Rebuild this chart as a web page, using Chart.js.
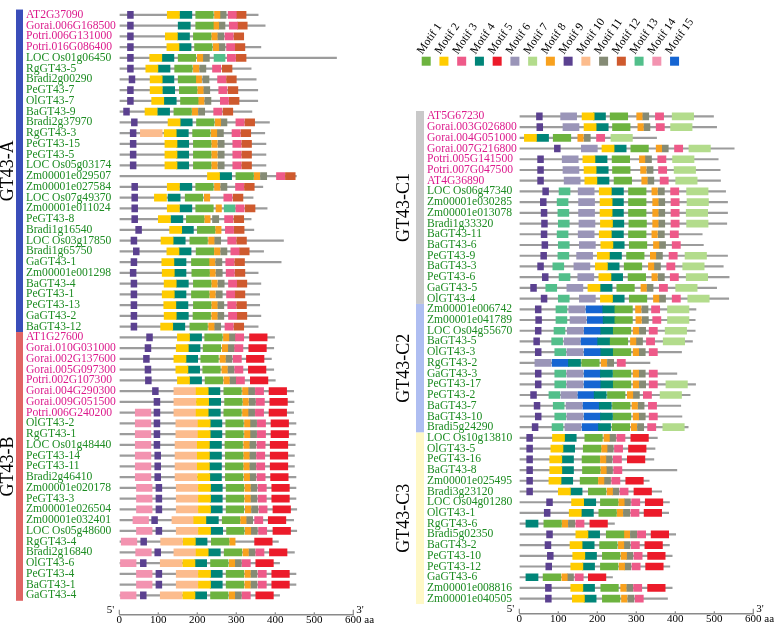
<!DOCTYPE html>
<html>
<head>
<meta charset="utf-8">
<script src="https://cdn.jsdelivr.net/npm/chart.js@4.4.0/dist/chart.umd.min.js"></script>
<style>
  body { margin: 0; background: #fff; }
  #wrap { position: relative; width: 780px; height: 629px; overflow: hidden; }
  .box { position: absolute; top: 0; height: 629px; }
</style>
</head>
<body>
<div id="wrap">
  <div class="box" style="left:0;width:385px"><canvas id="leftChart"></canvas></div>
  <div class="box" style="left:390px;width:390px"><canvas id="rightChart"></canvas></div>
</div>
<script>
// motif widths in aa (MEME motif sizes)
const motifNames = ['Motif 1','Motif 2','Motif 3','Motif 4','Motif 5','Motif 6','Motif 7','Motif 8',
  'Motif 9','Motif 10','Motif 11','Motif 12','Motif 13','Motif 14','Motif 15'];
const motifWidth = [45, 31, 21, 31, 45, 41, 55, 14, 15, 56, 16, 25, 28, 40, 43];

// ---- left panel: GT43-A / GT43-B ----
const leftGenes = ['AT2G37090','Gorai.006G168500','Potri.006G131000','Potri.016G086400','LOC Os01g06450',
  'RgGT43-5','Bradi2g00290','PeGT43-7','OlGT43-7','BaGT43-9','Bradi2g37970','RgGT43-3','PeGT43-15',
  'PeGT43-5','LOC Os05g03174','Zm00001e029507','Zm00001e027584','LOC Os07g49370','Zm00001e011024',
  'PeGT43-8','Bradi1g16540','LOC Os03g17850','Bradi1g65750','GaGT43-1','Zm00001e001298','BaGT43-4',
  'PeGT43-1','PeGT43-13','GaGT43-2','BaGT43-12','AT1G27600','Gorai.010G031000','Gorai.002G137600',
  'Gorai.005G097300','Potri.002G107300','Gorai.004G290300','Gorai.009G051500','Potri.006G240200',
  'OlGT43-2','RgGT43-1','LOC Os01g48440','PeGT43-14','PeGT43-11','Bradi2g46410','Zm00001e020178',
  'PeGT43-3','Zm00001e026504','Zm00001e032401','LOC Os05g48600','RgGT43-4','Bradi2g16840','OlGT43-6',
  'PeGT43-4','BaGT43-1','GaGT43-4'];
const leftLength = [356,374,317,363,557,338,351,355,355,340,385,373,376,376,376,454,368,343,379,338,
  345,421,370,415,356,363,360,360,363,356,398,396,390,396,400,447,448,447,453,453,451,449,449,453,
  453,453,455,447,455,408,449,411,453,453,411];
// [motif, start aa] per gene
const leftMotifs = [
  [[9,21],[2,123],[4,155],[1,196],[8,244],[11,258],[3,279],[12,300]],
  [[9,21],[4,151],[1,196],[8,241],[11,255],[3,282],[12,303]],
  [[9,21],[2,118],[4,149],[1,190],[8,237],[11,252],[3,271],[12,294]],
  [[9,21],[2,122],[4,153],[1,193],[8,241],[11,255],[3,275],[12,297]],
  [[9,21],[2,78],[4,109],[1,151],[8,200],[11,215],[13,243],[3,277],[12,300]],
  [[9,21],[2,68],[4,99],[1,142],[8,190],[11,206],[3,239],[12,264]],
  [[9,25],[2,79],[4,109],[1,151],[8,197],[11,214],[3,252],[12,275]],
  [[9,21],[2,79],[4,111],[1,154],[8,201],[11,216],[3,255],[12,279]],
  [[9,21],[2,83],[4,115],[1,157],[8,203],[11,219],[3,259],[12,282]],
  [[9,11],[2,66],[4,98],[1,140],[8,187],[11,203],[3,242],[12,266]],
  [[9,31],[2,125],[4,156],[1,198],[8,246],[11,260],[3,299],[12,322]],
  [[9,28],[10,54],[2,115],[4,146],[1,188],[8,236],[11,251],[3,289],[12,312]],
  [[9,28],[2,117],[4,147],[1,190],[8,237],[11,253],[3,291],[12,314]],
  [[9,28],[2,117],[4,147],[1,190],[8,237],[11,253],[3,291],[12,314]],
  [[9,28],[2,117],[4,147],[1,190],[8,237],[11,253],[3,291],[12,314]],
  [[2,226],[4,257],[1,299],[8,346],[11,362],[3,403],[12,426]],
  [[9,32],[2,123],[4,155],[1,196],[8,244],[11,260],[3,298],[12,321]],
  [[9,32],[2,90],[4,125],[1,169],[8,218],[3,268],[12,292]],
  [[9,32],[2,123],[4,155],[1,196],[8,248],[13,269],[3,299],[12,323]],
  [[9,32],[2,100],[4,132],[1,172],[8,219],[11,239],[3,270],[12,294]],
  [[9,42],[2,129],[4,159],[1,200],[8,247],[3,272],[12,295]],
  [[9,30],[2,107],[4,138],[1,181],[8,229],[11,244],[3,278],[12,301]],
  [[9,36],[2,122],[4,153],[1,197],[8,244],[11,260],[3,286],[12,308]],
  [[9,30],[2,109],[4,140],[1,185],[8,231],[11,247],[3,273],[12,296]],
  [[9,28],[2,110],[4,140],[1,186],[8,232],[11,248],[3,274],[12,297]],
  [[9,30],[2,115],[4,146],[1,190],[8,237],[11,253],[3,280],[12,302]],
  [[9,30],[2,110],[4,140],[1,185],[8,232],[11,248],[3,275],[12,297]],
  [[9,30],[2,114],[4,145],[1,190],[8,237],[11,252],[3,278],[12,301]],
  [[9,30],[2,115],[4,146],[1,189],[8,237],[11,252],[3,280],[12,302]],
  [[9,30],[2,106],[4,137],[1,181],[8,229],[11,244],[3,271],[12,294]],
  [[9,70],[2,149],[4,180],[1,219],[8,267],[11,282],[3,298],[5,334]],
  [[9,66],[2,146],[4,176],[1,215],[8,264],[11,279],[3,296],[5,332]],
  [[9,62],[2,140],[4,170],[1,209],[8,258],[11,273],[3,292],[5,326]],
  [[9,66],[2,145],[4,175],[1,214],[8,263],[11,278],[3,296],[5,331]],
  [[9,67],[2,149],[4,180],[1,220],[8,268],[11,283],[3,300],[5,336]],
  [[9,85],[10,140],[2,197],[4,227],[1,268],[8,316],[11,331],[3,349],[5,384]],
  [[9,89],[10,140],[2,198],[4,229],[1,270],[8,317],[11,333],[3,351],[5,386]],
  [[14,41],[9,89],[10,140],[2,197],[4,228],[1,268],[8,316],[11,331],[3,349],[5,384]],
  [[14,41],[9,89],[10,145],[2,202],[4,232],[1,273],[8,321],[11,336],[3,354],[5,389]],
  [[14,41],[9,89],[10,145],[2,202],[4,232],[1,273],[8,321],[11,336],[3,354],[5,389]],
  [[14,41],[9,89],[10,143],[2,200],[4,231],[1,271],[8,319],[11,334],[3,353],[5,387]],
  [[14,41],[9,91],[10,143],[2,200],[4,231],[1,272],[8,319],[11,334],[3,352],[5,387]],
  [[14,41],[9,91],[10,143],[2,200],[4,231],[1,272],[8,319],[11,334],[3,352],[5,387]],
  [[14,41],[9,91],[10,143],[2,201],[4,231],[1,272],[8,320],[11,334],[3,353],[5,388]],
  [[14,44],[9,94],[10,146],[2,203],[4,233],[1,274],[8,322],[11,337],[3,356],[5,391]],
  [[14,44],[9,94],[10,146],[2,203],[4,233],[1,274],[8,322],[11,337],[3,356],[5,391]],
  [[14,44],[9,94],[10,146],[2,203],[4,233],[1,274],[8,323],[11,339],[3,358],[5,394]],
  [[14,35],[9,83],[10,135],[2,191],[4,223],[1,264],[8,311],[11,326],[3,347],[5,382]],
  [[14,44],[9,94],[10,146],[2,203],[4,234],[1,275],[8,323],[11,338],[3,357],[5,394]],
  [[14,5],[9,55],[10,106],[2,164],[4,194],[1,236],[8,283],[5,347]],
  [[14,42],[9,91],[10,140],[2,197],[4,228],[1,269],[8,317],[11,332],[3,350],[5,385]],
  [[14,3],[9,54],[10,105],[2,163],[4,193],[1,234],[8,282],[11,297],[3,315],[5,350]],
  [[14,44],[9,94],[10,146],[2,203],[4,233],[1,274],[8,322],[11,337],[3,356],[5,391]],
  [[14,44],[9,94],[10,146],[2,203],[4,233],[1,274],[8,322],[11,337],[3,356],[5,391]],
  [[14,3],[9,54],[10,105],[2,163],[4,193],[1,234],[8,282],[11,297],[3,315],[5,350]]
];
const leftGroups = [['GT43-A', 0, 29], ['GT43-B', 30, 54]];

// ---- right panel: GT43-C1 / C2 / C3 ----
const rightGenes = ['AT5G67230','Gorai.003G026800','Gorai.004G051000','Gorai.007G216800','Potri.005G141500',
  'Potri.007G047500','AT4G36890','LOC Os06g47340','Zm00001e030285','Zm00001e013078','Bradi1g33320',
  'BaGT43-11','BaGT43-6','PeGT43-9','BaGT43-3','PeGT43-6','GaGT43-5','OlGT43-4','Zm00001e006742',
  'Zm00001e041789','LOC Os04g55670','BaGT43-5','OlGT43-3','RgGT43-2','GaGT43-3','PeGT43-17','PeGT43-2',
  'BaGT43-7','BaGT43-10','Bradi5g24290','LOC Os10g13810','OlGT43-5','PeGT43-16','BaGT43-8',
  'Zm00001e025495','Bradi3g23120','LOC Os04g01280','OlGT43-1','RgGT43-6','Bradi5g02350','BaGT43-2',
  'PeGT43-10','PeGT43-12','GaGT43-6','Zm00001e008816','Zm00001e040505'];
const rightLength = [498,506,352,551,510,515,516,529,534,534,532,469,472,534,523,538,506,537,453,451,
  451,444,416,335,404,452,438,414,417,433,354,348,345,404,333,365,385,383,244,401,385,392,386,239,392,380];
const rightMotifs = [
  [[9,44],[6,106],[2,161],[4,190],[1,233],[8,301],[11,316],[3,349],[7,392]],
  [[9,45],[6,112],[2,166],[4,197],[1,239],[8,304],[11,319],[3,351],[7,388]],
  [[2,13],[4,44],[1,87],[8,150],[11,166],[3,198],[7,235]],
  [[9,90],[6,159],[2,212],[4,243],[1,286],[8,351],[11,366],[3,398],[7,435]],
  [[9,47],[6,110],[2,163],[4,194],[1,238],[8,308],[11,323],[3,355],[7,393]],
  [[9,47],[6,112],[2,166],[4,197],[1,239],[8,311],[11,327],[3,357],[7,397]],
  [[9,47],[6,115],[2,168],[4,199],[1,243],[8,314],[11,329],[3,361],[7,401]],
  [[9,60],[13,102],[6,151],[2,205],[4,236],[1,280],[8,340],[11,356],[3,388],[7,429]],
  [[9,54],[13,97],[6,152],[2,207],[4,236],[1,280],[8,342],[11,357],[3,389],[7,430]],
  [[9,56],[13,99],[6,152],[2,207],[4,236],[1,280],[8,342],[11,357],[3,389],[7,428]],
  [[9,57],[13,100],[6,153],[2,208],[4,237],[1,281],[8,342],[11,357],[3,389],[7,429]],
  [[9,56],[13,97],[6,151],[2,205],[4,236],[1,280],[8,340],[11,356],[3,387]],
  [[9,58],[13,100],[6,154],[2,209],[4,238],[1,282],[8,344],[11,359],[3,392]],
  [[9,55],[13,99],[6,147],[2,200],[4,231],[1,275],[8,336],[11,351],[3,384],[7,425]],
  [[9,47],[13,86],[6,140],[2,195],[4,225],[1,269],[8,331],[11,346],[3,378],[7,419]],
  [[9,59],[13,102],[6,150],[2,204],[4,234],[1,279],[8,340],[11,356],[3,387],[7,428]],
  [[9,29],[13,68],[6,122],[2,176],[4,207],[1,250],[8,312],[11,327],[3,359],[7,401]],
  [[9,56],[13,100],[6,154],[2,208],[4,238],[1,282],[8,344],[11,359],[3,392],[7,432]],
  [[9,41],[13,94],[6,127],[15,171],[4,214],[1,245],[8,298],[11,314],[3,339],[7,380]],
  [[9,42],[13,94],[6,130],[15,174],[4,215],[1,245],[8,299],[11,315],[3,342],[7,380]],
  [[9,41],[13,89],[6,123],[15,166],[4,209],[1,241],[8,292],[11,308],[3,333],[7,374]],
  [[9,37],[13,83],[6,115],[15,158],[4,201],[1,233],[8,285],[11,300],[3,326],[7,369]],
  [[9,41],[13,91],[6,122],[15,166],[4,209],[1,241],[8,292],[11,307],[3,333]],
  [[6,40],[15,84],[4,126],[1,160],[8,210],[11,226],[3,251]],
  [[9,41],[13,91],[6,122],[15,166],[4,208],[1,241],[8,292],[11,307],[3,333]],
  [[9,41],[13,91],[6,122],[15,166],[4,209],[1,241],[8,292],[11,308],[3,333],[7,376]],
  [[9,29],[13,76],[6,107],[15,150],[4,192],[1,226],[8,277],[11,292],[3,318],[7,361]],
  [[9,38],[13,87],[6,120],[15,163],[4,205],[1,239],[8,289],[11,304],[3,331]],
  [[9,41],[13,91],[6,122],[15,166],[4,208],[1,241],[8,292],[11,307],[3,333]],
  [[9,33],[13,84],[6,117],[15,161],[4,203],[1,238],[8,287],[11,303],[3,329],[7,368]],
  [[9,19],[2,85],[4,115],[1,168],[8,217],[11,231],[3,250],[5,286]],
  [[9,19],[2,81],[4,111],[1,164],[8,211],[11,225],[3,244],[5,280]],
  [[9,19],[2,78],[4,108],[1,161],[8,208],[11,222],[3,241],[5,277]],
  [[9,19],[2,78],[4,108],[1,162],[8,209],[11,223],[3,242]],
  [[9,19],[2,76],[4,106],[1,156],[8,203],[11,218],[3,237],[5,273]],
  [[9,19],[2,100],[4,130],[1,177],[8,225],[11,239],[3,258],[5,294]],
  [[9,70],[2,134],[4,165],[1,208],[8,255],[11,269],[3,288],[5,323]],
  [[9,64],[2,128],[4,159],[1,204],[8,251],[11,267],[3,286],[5,320]],
  [[4,17],[1,63],[8,110],[11,126],[3,145],[5,181]],
  [[9,70],[2,145],[4,175],[1,223],[8,269],[11,285],[3,303],[5,338]],
  [[9,66],[2,130],[4,161],[1,206],[8,254],[11,268],[3,287],[5,322]],
  [[9,72],[2,137],[4,167],[1,213],[8,261],[11,275],[3,294],[5,329]],
  [[9,68],[2,132],[4,162],[1,208],[8,256],[11,270],[3,289],[5,324]],
  [[4,17],[1,61],[8,109],[11,123],[3,143],[5,177]],
  [[9,67],[2,132],[4,162],[1,209],[8,260],[11,275],[3,293],[5,329]],
  [[9,67],[2,136],[4,166],[1,213],[8,262],[11,278],[3,297]]
];
const rightGroups = [['GT43-C1', 0, 17], ['GT43-C2', 18, 29], ['GT43-C3', 30, 45]];

const xTicks = [0, 100, 200, 300, 400, 500, 600];

// styles
const motifColors = ['#6DB33F','#FFCC00','#EE5A89','#008578','#EC1B2A','#9A95B8','#B3DC8C','#F8A11E',
  '#5B4190','#FCBC8D','#858B75','#CF5A2E','#52BF8B','#F393B0','#1565D2'];
const leftGroupColors = ['#3A4DB9', '#E06464'];
const rightGroupColors = ['#C9C9C9', '#AFBEF1', '#FFF8C6'];
const dicotColor = '#DC1A8C', monocotColor = '#1D8C22';
const serif = 'Liberation Serif';

function isDicot(name) {
  return /^(AT\d|Gorai|Potri)/.test(name || '');
}

function makeDecor(groups, groupColors, look) {
  return {
    id: 'decor',
    afterDraw(chart) {
      const ctx = chart.ctx, xs = chart.scales.x, ys = chart.scales.y;
      const axisY = xs.top;
      ctx.save();
      // small upward tick marks on the ruler
      ctx.strokeStyle = '#8a8a8a';
      ctx.lineWidth = 1.2;
      xs.ticks.forEach((t, i) => {
        const px = xs.getPixelForValue(t.value);
        const h = (i === 0 || i === xs.ticks.length - 1) ? 4.5 : 2;
        ctx.beginPath(); ctx.moveTo(px, axisY); ctx.lineTo(px, axisY - h); ctx.stroke();
      });
      ctx.fillStyle = '#000';
      ctx.font = '11px "' + serif + '"';
      ctx.textBaseline = 'alphabetic';
      ctx.textAlign = 'right';
      ctx.fillText("5'", xs.left - 5, axisY - 1);
      ctx.textAlign = 'left';
      ctx.fillText("3'", xs.right + 3, axisY - 1);
      ctx.textBaseline = 'middle';
      ctx.fillText('aa', xs.right + 11, axisY + 5.5);
      // group bars and names
      groups.forEach(([name, from, to], k) => {
        const top = ys.getPixelForValue(from - 0.5), bot = ys.getPixelForValue(to + 0.5);
        ctx.fillStyle = groupColors[k];
        ctx.fillRect(look.barX, top, look.barW, bot - top);
        ctx.save();
        ctx.translate(look.nameX, (top + bot) / 2);
        ctx.rotate(-Math.PI / 2);
        ctx.fillStyle = '#000';
        ctx.textAlign = 'center';
        ctx.textBaseline = 'middle';
        ctx.font = '18px "' + serif + '"';
        ctx.fillText(name, 0, 0);
        ctx.restore();
      });
      if (look.legend) {
        const lg = look.legend;
        motifNames.forEach((name, k) => {
          const x0 = lg.x + k * lg.dx;
          ctx.fillStyle = motifColors[k];
          ctx.fillRect(x0, lg.y, lg.size, lg.size);
          ctx.save();
          ctx.translate(x0 + 0.5, lg.y - 2);
          ctx.rotate(-55 * Math.PI / 180);
          ctx.fillStyle = '#000';
          ctx.textAlign = 'left';
          ctx.textBaseline = 'alphabetic';
          ctx.font = '11.5px "' + serif + '"';
          ctx.fillText(name, 0, 0);
          ctx.restore();
        });
      }
      ctx.restore();
    }
  };
}

function buildChart(canvasId, genes, lengths, motifs, groups, groupColors, look) {
  const datasets = [{
    label: 'protein',
    data: lengths.map((len, i) => ({ x: [0, len], y: i })),
    backgroundColor: '#9c9c9c',
    barThickness: 1.5,
    grouped: false,
    order: 1
  }];
  motifNames.forEach((name, m) => {
    const pts = [];
    motifs.forEach((row, i) => {
      row.forEach(([motif, start]) => {
        if (motif === m + 1) pts.push({ x: [start, start + motifWidth[m]], y: i });
      });
    });
    datasets.push({
      label: name, data: pts, backgroundColor: motifColors[m],
      barThickness: 7, grouped: false, order: 0
    });
  });

  return new Chart(document.getElementById(canvasId), {
    type: 'bar',
    data: { datasets },
    options: {
      indexAxis: 'y',
      responsive: true,
      maintainAspectRatio: false,
      animation: false,
      layout: { padding: { left: look.padL, right: look.padR, top: look.padT, bottom: 0 } },
      plugins: { legend: { display: false }, tooltip: { enabled: false } },
      scales: {
        x: {
          type: 'linear', min: 0, max: 600,
          afterBuildTicks: s => { s.ticks = xTicks.map(v => ({ value: v })); },
          ticks: { padding: 0, color: '#000', maxRotation: 0, autoSkip: false,
                   font: { family: serif, size: 11, lineHeight: 1 } },
          grid: { drawOnChartArea: false, drawTicks: false },
          border: { color: '#8a8a8a', width: 1.5 },
          afterFit: s => { s.height = look.xH; }
        },
        y: {
          type: 'linear', reverse: true, min: -0.5, max: look.yMax, bounds: 'data',
          // one tick per gene row
          afterBuildTicks: s => { s.ticks = genes.map((g, i) => ({ value: i })); },
          ticks: {
            autoSkip: false, padding: 0, crossAlign: 'far',
            callback: v => genes[v],
            color: c => (c.tick && isDicot(genes[c.tick.value])) ? dicotColor : monocotColor,
            font: { family: serif, size: 11.6, lineHeight: 1 }
          },
          grid: { display: false },
          border: { display: false },
          afterFit: s => { s.width = look.yW; s.paddingTop = 0; s.paddingBottom = 0; }
        }
      }
    },
    plugins: [makeDecor(groups, groupColors, look)]
  });
}

buildChart('leftChart', leftGenes, leftLength, leftMotifs, leftGroups, leftGroupColors,
  { padL: 26, padR: 31.7, padT: 4, yW: 93.3, yMax: 55.24, xH: 14.7, barX: 16, barW: 7, nameX: 8 });

buildChart('rightChart', rightGenes, rightLength, rightMotifs, rightGroups, rightGroupColors,
  { padL: 37, padR: 26.7, padT: 105.5, yW: 92.3, yMax: 45.85, xH: 15.7, barX: 26, barW: 8, nameX: 14,
    legend: { x: 31.7, y: 56.7, dx: 17.74, size: 9 } });
</script>
</body>
</html>
